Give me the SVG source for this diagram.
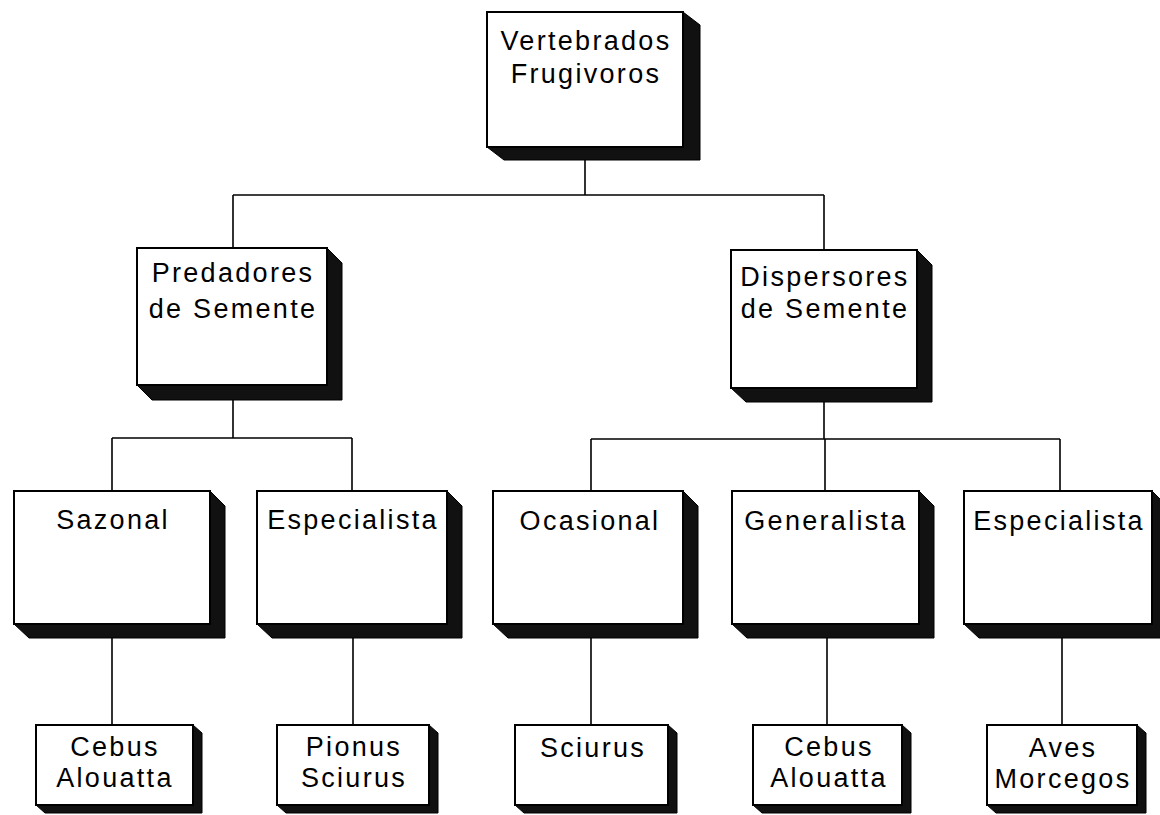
<svg xmlns="http://www.w3.org/2000/svg" width="1160" height="815" viewBox="0 0 1160 815">
<style>
.box{fill:#fff;stroke:#000;stroke-width:2}
.sh{fill:#111;stroke:#000;stroke-width:1}
.lbl{font-family:"Liberation Sans",Arial,sans-serif;font-size:27px;letter-spacing:2.3px;fill:#000;text-anchor:middle}
.con{fill:none;stroke:#000;stroke-width:1.6}
</style>
<rect width="1160" height="815" fill="#fff"/>
<g id="connectors" class="con">
<path d="M585 150 V195 M233 195 H824 M233 195 V248 M824 195 V250"/>
<path d="M233 390 V438 M112 438 H352 M112 438 V491 M352 438 V491"/>
<path d="M824 390 V439 M591 439 H1060 M591 439 V491 M825 439 V491 M1060 439 V491"/>
<path d="M112 630 V725 M353 630 V725 M591 630 V725 M827 630 V725 M1062 630 V725"/>
</g>
<g id="n-vertebrados">
<polygon class="sh" points="683,12 700,25 700,160 504,160 487,147 683,147"/>
<rect class="box" x="487" y="12" width="196" height="135"/>
<text class="lbl" x="586" y="50">Vertebrados</text>
<text class="lbl" x="586" y="83">Frugivoros</text>
</g>
<g id="n-predadores">
<polygon class="sh" points="327,248 342,263 342,400 152,400 137,385 327,385"/>
<rect class="box" x="137" y="248" width="190" height="137"/>
<text class="lbl" x="233" y="282">Predadores</text>
<text class="lbl" x="233" y="318">de Semente</text>
</g>
<g id="n-dispersores">
<polygon class="sh" points="917,250 932,265 932,402 746,402 731,388 917,388"/>
<rect class="box" x="731" y="250" width="186" height="138"/>
<text class="lbl" x="825" y="286">Dispersores</text>
<text class="lbl" x="825" y="318">de Semente</text>
</g>
<g id="n-sazonal">
<polygon class="sh" points="210,491 225,506 225,638 29,638 14,624 210,624"/>
<rect class="box" x="14" y="491" width="196" height="133"/>
<text class="lbl" x="113" y="529">Sazonal</text>
</g>
<g id="n-especialista1">
<polygon class="sh" points="447,491 462,506 462,638 272,638 257,624 447,624"/>
<rect class="box" x="257" y="491" width="190" height="133"/>
<text class="lbl" x="353" y="529">Especialista</text>
</g>
<g id="n-ocasional">
<polygon class="sh" points="683,491 698,506 698,638 508,638 493,624 683,624"/>
<rect class="box" x="493" y="491" width="190" height="133"/>
<text class="lbl" x="590" y="530">Ocasional</text>
</g>
<g id="n-generalista">
<polygon class="sh" points="919,491 934,506 934,638 747,638 732,624 919,624"/>
<rect class="box" x="732" y="491" width="187" height="133"/>
<text class="lbl" x="826" y="530">Generalista</text>
</g>
<g id="n-especialista2">
<polygon class="sh" points="1152,491 1167,506 1167,638 979,638 964,624 1152,624"/>
<rect class="box" x="964" y="491" width="188" height="133"/>
<text class="lbl" x="1059" y="530">Especialista</text>
</g>
<g id="n-cebus1">
<polygon class="sh" points="193,725 202,733 202,813 45,813 36,805 193,805"/>
<rect class="box" x="36" y="725" width="157" height="80"/>
<text class="lbl" x="115" y="756">Cebus</text>
<text class="lbl" x="115" y="787">Alouatta</text>
</g>
<g id="n-pionus">
<polygon class="sh" points="429,725 438,733 438,813 286,813 277,805 429,805"/>
<rect class="box" x="277" y="725" width="152" height="80"/>
<text class="lbl" x="354" y="756">Pionus</text>
<text class="lbl" x="354" y="787">Sciurus</text>
</g>
<g id="n-sciurus">
<polygon class="sh" points="668,725 677,733 677,813 524,813 515,805 668,805"/>
<rect class="box" x="515" y="725" width="153" height="80"/>
<text class="lbl" x="593" y="757">Sciurus</text>
</g>
<g id="n-cebus2">
<polygon class="sh" points="902,725 911,733 911,813 762,813 753,805 902,805"/>
<rect class="box" x="753" y="725" width="149" height="80"/>
<text class="lbl" x="829" y="756">Cebus</text>
<text class="lbl" x="829" y="787">Alouatta</text>
</g>
<g id="n-aves">
<polygon class="sh" points="1137,725 1146,733 1146,813 996,813 987,805 1137,805"/>
<rect class="box" x="987" y="725" width="150" height="80"/>
<text class="lbl" x="1063" y="757">Aves</text>
<text class="lbl" x="1063" y="788">Morcegos</text>
</g>
</svg>
